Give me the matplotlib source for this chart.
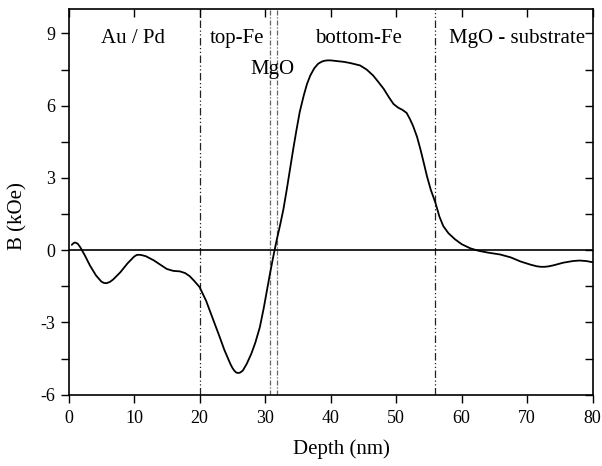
import matplotlib
matplotlib.use("Agg")
import matplotlib.pyplot as plt

plt.rcParams['font.family'] = ['Liberation Serif', 'DejaVu Serif']

depth = [0.5, 0.75, 1.0, 1.4, 1.8, 2.5, 3.3, 4.2, 5.0, 5.4, 5.8, 6.3, 6.8, 7.9, 9.0,
         10.0, 10.4, 10.7, 11.1, 11.8, 13.0, 14.0, 15.0, 16.0, 17.0, 17.8, 18.5,
         19.2, 20.0, 21.0, 22.1, 23.0, 23.8, 24.7, 25.0, 25.3, 25.6, 25.9, 26.2,
         26.6, 27.2, 27.9, 28.5, 29.2, 29.8, 30.3, 30.8, 31.3, 31.8, 32.3, 32.8,
         33.3, 33.8, 34.3, 34.8, 35.3, 35.9, 36.4, 36.9, 37.5, 38.1, 38.6, 39.0,
         39.5, 40.0, 41.0, 42.0, 43.0, 44.5, 45.5, 46.5, 47.3, 48.1, 48.9, 49.6,
         50.3, 51.0, 51.6, 52.1, 52.6, 53.2, 53.7, 54.2, 54.7, 55.3, 56.0, 56.6,
         57.2, 58.0, 59.0, 60.0, 61.3, 62.5, 64.0, 65.9, 67.5, 69.0, 70.5, 71.5,
         72.1, 72.7, 73.3, 74.0, 75.5, 77.0, 78.0, 79.0, 80.0]
field = [0.22, 0.29, 0.32, 0.27, 0.12, -0.22, -0.65, -1.05, -1.3, -1.36, -1.37,
         -1.32, -1.22, -0.92, -0.55, -0.27, -0.2, -0.19, -0.2, -0.25, -0.42, -0.6,
         -0.78, -0.86, -0.88, -0.95, -1.08, -1.28, -1.53, -2.1, -2.9, -3.55, -4.15,
         -4.72, -4.88, -5.0, -5.08, -5.1, -5.08, -5.0, -4.72, -4.3, -3.85, -3.2,
         -2.4, -1.65, -0.9, -0.2, 0.45, 1.05, 1.7, 2.5, 3.35, 4.2, 5.0, 5.75, 6.42,
         6.9, 7.25, 7.55, 7.74, 7.82, 7.86, 7.88, 7.88, 7.85, 7.82, 7.77, 7.67, 7.5,
         7.25, 6.98, 6.7, 6.35, 6.07, 5.92, 5.82, 5.7, 5.45, 5.15, 4.7, 4.2, 3.65,
         3.08, 2.5, 1.97, 1.4, 1.0, 0.7, 0.45, 0.25, 0.08, -0.02, -0.1, -0.18,
         -0.3, -0.47, -0.6, -0.67, -0.69, -0.69, -0.67, -0.63, -0.52, -0.45, -0.43,
         -0.45, -0.5]

boundaries = [20.0, 30.8, 31.8, 56.0]
layer_names = ["Au / Pd", "top-Fe", "MgO", "bottom-Fe", "MgO - substrate"]
layer_x = [9.8, 25.7, 31.2, 44.2, 68.5]
layer_y = [8.78, 8.78, 7.5, 8.78, 8.78]

xticks = [0, 10, 20, 30, 40, 50, 60, 70, 80]
yticks = [-6, -4.5, -3, -1.5, 0, 1.5, 3, 4.5, 6, 7.5, 9]
ylabels = ["-6", "", "-3", "", "0", "", "3", "", "6", "", "9"]

fig = plt.figure(figsize=(6.02, 4.66), dpi=100)
ax = fig.add_axes([0.1138, 0.153, 0.8707, 0.827])

ax.axhline(0, color='black', lw=1.2, zorder=2)
styles = [(0, (6, 2, 1, 2, 1, 2)), (0, (4, 1.5, 1, 1.5)), (0, (4, 1.5, 1, 1.5)),
          (0, (6, 2, 1, 2, 1, 2))]
colors = ['#222222', '#666666', '#666666', '#222222']
for b, ls, c in zip(boundaries, styles, colors):
    ax.axvline(b, color=c, lw=0.9, linestyle=ls, zorder=1)

ax.plot(depth, field, color='black', lw=1.3, zorder=3,
        solid_joinstyle='round', solid_capstyle='round')

for name, x, y in zip(layer_names, layer_x, layer_y):
    ax.text(x, y, name, ha='center', va='center', fontsize=15)

ax.set_xlim(0, 80)
ax.set_ylim(-6, 10)
ax.set_xticks(xticks)
ax.set_yticks(yticks)
ax.set_yticklabels(ylabels)
ax.tick_params(axis='both', labelsize=13, length=5.8, width=1.0, direction='out')
ax.tick_params(axis='x', pad=5)
ax.tick_params(top=True, right=True)
for t in ax.xaxis.get_major_ticks():
    t.tick2line.set_marker(3)  # inside at top
for t in ax.yaxis.get_major_ticks():
    t.tick2line.set_marker(0)  # inside at right
for s in ax.spines.values():
    s.set_linewidth(1.2)

ax.set_xlabel("Depth (nm)", fontsize=15, va='center')
ax.set_ylabel("B (kOe)", fontsize=15, va='center')
ax.xaxis.set_label_coords(0.52, -0.141)
ax.yaxis.set_label_coords(-0.097, 0.464)

fig.savefig("out.png", dpi=100)
